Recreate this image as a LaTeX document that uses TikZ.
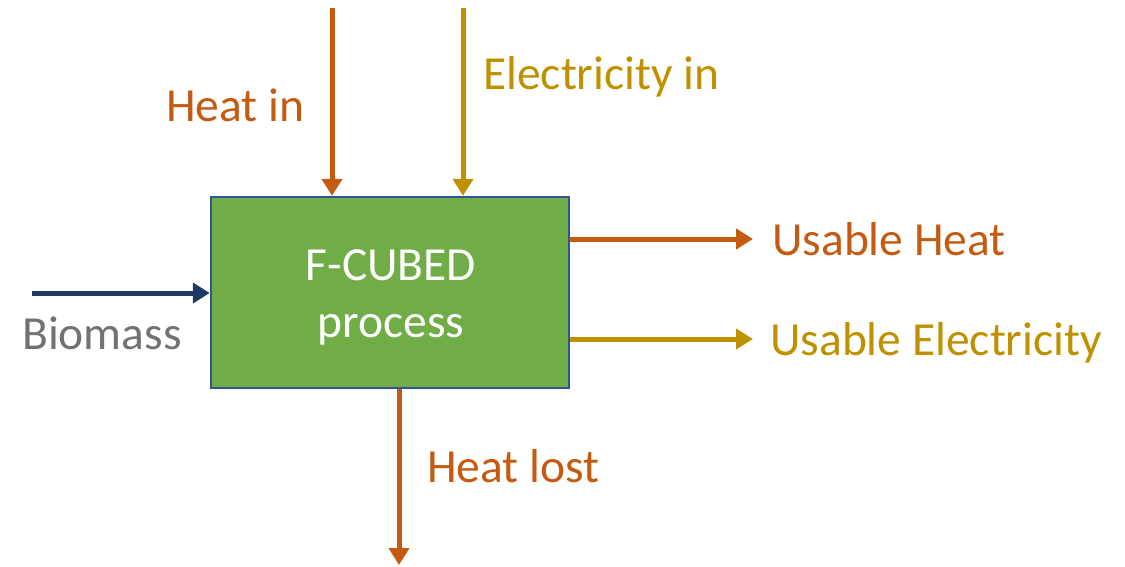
\documentclass[tikz,border=0pt]{standalone}
\usepackage{fontspec}
\setmainfont{Carlito}
\usetikzlibrary{arrows.meta}
\definecolor{heatc}{HTML}{C55A11}
\definecolor{elecc}{HTML}{BF9000}
\definecolor{boxfill}{HTML}{70AD47}
\definecolor{boxline}{HTML}{2F5597}
\definecolor{biomc}{HTML}{203864}
\definecolor{graytxt}{HTML}{767171}
\begin{document}
\begin{tikzpicture}[x=1pt,y=-1pt,
  flow/.style={line width=5pt,-{Triangle[length=17pt,width=20pt]}},
  lbl/.style={font=\fontsize{47.5}{52}\selectfont,inner sep=0pt,anchor=west}]
\useasboundingbox (0,0) rectangle (1125,566);
\node[draw=boxline,line width=2.5pt,fill=boxfill,minimum width=358pt,minimum height=191pt] (box) at (390,292.5) {};
\node[text=white,align=center,font=\fontsize{47.5}{57}\selectfont,inner sep=0pt] (boxtxt) at (391,297) {F-CUBED\\process};
\coordinate (hin) at (332,8);
\coordinate (ein) at (463,8);
\coordinate (bin) at (32,293);
\coordinate (uh) at (753,239);
\coordinate (ue) at (753,339);
\coordinate (hl) at (399,565);
\draw[flow,heatc] (hin) -- (hin |- box.north);
\draw[flow,elecc] (ein) -- (ein |- box.north);
\draw[flow,biomc] (bin) -- (bin -| box.west);
\draw[flow,heatc] (box.east |- uh) -- (uh);
\draw[flow,elecc] (box.east |- ue) -- (ue);
\draw[flow,heatc] (hl |- box.south) -- (hl);
\node[lbl,text=heatc] (thin) at (166,105) {Heat in};
\node[lbl,text=elecc] (tein) at (483,77) {Electricity in};
\node[lbl,text=heatc] (tuh) at (772,239) {Usable Heat};
\node[lbl,text=elecc] (tue) at (770,343) {Usable Electricity};
\node[lbl,text=graytxt] (tb) at (22,333) {Biomass};
\node[lbl,text=heatc] (thl) at (427,466) {Heat lost};
\end{tikzpicture}
\end{document}
